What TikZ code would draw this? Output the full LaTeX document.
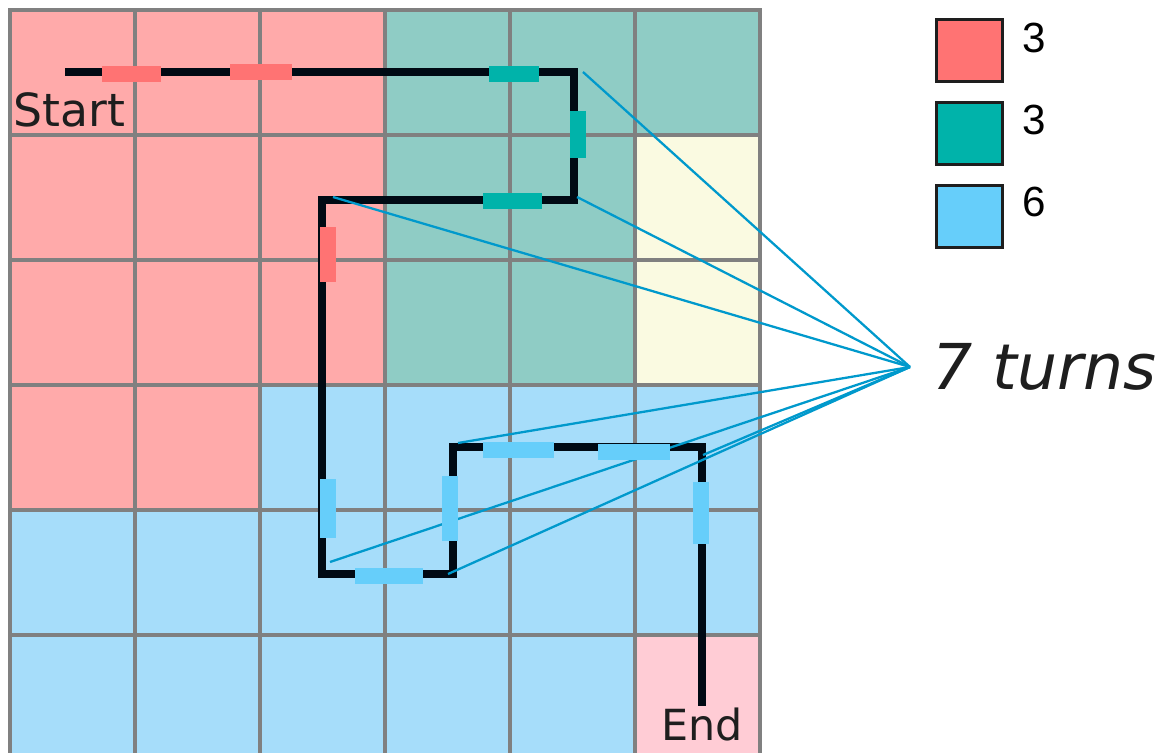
\documentclass[tikz,border=0pt]{standalone}
\usepackage{fontspec}
\setmainfont{DejaVu Sans}
\newfontfamily\keyfont{Liberation Sans}
\usetikzlibrary{positioning}
\definecolor{cellred}{HTML}{FFAAAA}
\definecolor{cellteal}{HTML}{8FCCC5}
\definecolor{cellyellow}{HTML}{FAFAE1}
\definecolor{cellblue}{HTML}{A6DDFA}
\definecolor{cellpink}{HTML}{FFCCD5}
\definecolor{segred}{HTML}{FF7373}
\definecolor{segteal}{HTML}{00B3AA}
\definecolor{segblue}{HTML}{66CEFA}
\definecolor{raycyan}{HTML}{0099CC}
\definecolor{pathblack}{HTML}{000A14}
\definecolor{gridgray}{HTML}{808080}
\definecolor{labelgray}{HTML}{1E1E1E}

\begin{document}
\begin{tikzpicture}[x=0.02cm, y=-0.02cm,
	gridline/.style={draw=gridgray, line width=2pt, line cap=rect},
	route/.style={draw=pathblack, line width=5.1pt, line join=miter},
	flag/.style={draw=#1, line width=8.8pt},
	ray/.style={draw=raycyan, line width=1.3pt},
	keybox/.style={draw=labelgray, line width=1.7pt, minimum width=1.32cm, minimum height=1.24cm, inner sep=0},
	keytext/.style={font=\keyfont\fontsize{24}{24}\selectfont, inner sep=0, anchor=west},
	cornertext/.style={text=labelgray, inner sep=0, anchor=base west}]
	\useasboundingbox (0,0) rectangle (1165,753);
	\clip (0,0) rectangle (1165,753);
	% regions
	\fill[cellred] (10,10) rectangle (385,385) (10,385) rectangle (260,510);
	\fill[cellteal] (385,10) rectangle (760,135) (385,135) rectangle (635,385);
	\fill[cellyellow] (635,135) rectangle (760,385);
	\fill[cellblue] (260,385) rectangle (760,510) (10,510) rectangle (760,635) (10,635) rectangle (635,760);
	\fill[cellpink] (635,635) rectangle (760,760);
	\foreach \k in {0,...,6} {
		\draw[gridline] (10+125*\k,10) -- (10+125*\k,760);
		\draw[gridline] (10,10+125*\k) -- (760,10+125*\k);
	}
	% route with its turns
	\coordinate (start) at (65,72);
	\coordinate (t1) at (574,72);
	\coordinate (t2) at (574,200);
	\coordinate (t3) at (322,200);
	\coordinate (t4) at (322,574);
	\coordinate (t5) at (453,574);
	\coordinate (t6) at (453,447);
	\coordinate (t7) at (702,447);
	\coordinate (end) at (702,706);
	\draw[route] (start) -- (t1) -- (t2) -- (t3) -- (t4) -- (t5) -- (t6) -- (t7) -- (end);
	\coordinate (hub) at (910,367);
	\foreach \x/\y [count=\i] in {583/72, 577/197, 333/197, 330/562, 448/574, 458/443, 703/455}
		\coordinate (l\i) at (\x,\y);
	\foreach \i in {1,...,7} {\draw[ray] (l\i) -- (hub);}
	% segments
	\foreach \p/\q in {{102,74}/{161,74}, {230,72}/{292,72}, {328,227}/{328,282}}
		\draw[flag=segred] (\p) -- (\q);
	\foreach \p/\q in {{489,74}/{539,74}, {578,111}/{578,158}, {483,201}/{542,201}}
		\draw[flag=segteal] (\p) -- (\q);
	\foreach \p/\q in {{328,479}/{328,538}, {355,576}/{423,576}, {450,476}/{450,541}, {483,450}/{554,450}, {598,452}/{670,452}, {701,482}/{701,544}}
		\draw[flag=segblue] (\p) -- (\q);
	% labels
	\node[cornertext, font=\fontsize{26}{26}\selectfont] (startlbl) at (13,127) {Start};
	\node[cornertext, font=\fontsize{24.4}{24.4}\selectfont] (endlbl) at (661,740) {End};
	\node[inner sep=0, right=0.44cm of hub, text=labelgray, font=\itshape\fontsize{36}{36}\selectfont] (turns) {7 turns};
	% legend
	\foreach \i/\c/\n in {0/segred/3, 1/segteal/3, 2/segblue/6} {
		\node[keybox, fill=\c] (key\i) at (969.5,50.5+83*\i) {};
		\node[keytext] (val\i) at (1022,38+82*\i) {\n};
	}
\end{tikzpicture}
\end{document}
